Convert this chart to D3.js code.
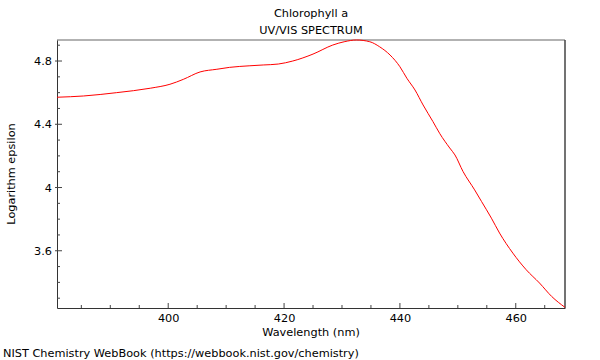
<!DOCTYPE html>
<html>
<head>
<meta charset="utf-8">
<script src="https://cdn.jsdelivr.net/npm/d3@7"></script>
<style>
  body { margin: 0; background: #fff; }
  svg text { font-family: "DejaVu Sans", sans-serif; font-size: 11.3px; fill: #000; }
</style>
</head>
<body>
<svg id="chart" width="600" height="360"></svg>
<script>
// spectrum
const wavelength = [380.8, 385.4, 391.1, 396.9, 400.3, 402.6, 405.5, 408.4, 410.6, 414.1,
    416.4, 419, 421.5, 425, 428.4, 430.5, 432.5, 434.8, 436.5, 438.3,
    440, 441.2, 442.6, 444, 445.7, 446.9, 448.6, 449.5, 450.9, 452.9,
    454.1, 455.8, 457.2, 459.5, 461.8, 464.1, 466.2, 468.5];
const logEps = [4.571, 4.579, 4.600, 4.628, 4.653, 4.684, 4.731, 4.748, 4.760, 4.770,
    4.775, 4.781, 4.800, 4.844, 4.901, 4.923, 4.933, 4.922, 4.890, 4.838,
    4.764, 4.691, 4.617, 4.522, 4.417, 4.340, 4.250, 4.206, 4.101, 3.985,
    3.911, 3.806, 3.712, 3.585, 3.480, 3.396, 3.311, 3.242];
const xTicks = [400, 420, 440, 460];
const yTicks = [3.6, 4, 4.4, 4.8];
const titleLines = ['Chlorophyll a', 'UV/VIS SPECTRUM'];

window.addEventListener('load', () => {
    let svg = d3.select('svg#chart');
    let left = 57, right = 565, top = 40, bottom = 308;

    let x = d3.scaleLinear().domain([380.8, 468.5]).range([left, right]);
    let y = d3.scaleLinear().domain([3.238, 4.933]).range([bottom, top]);

    // minor ticks every 5 nm / 0.1
    let xMinor = d3.range(385, 469, 5).filter(d => xTicks.indexOf(d) < 0);
    let yMinor = d3.range(33, 50).map(d => d / 10).filter(d => yTicks.indexOf(d) < 0);

    // frame: top and right
    svg.append('line').attr('x1', left).attr('x2', right).attr('y1', top).attr('y2', top)
        .attr('stroke', '#999').attr('stroke-width', 1.5);
    svg.append('line').attr('x1', right).attr('x2', right).attr('y1', top).attr('y2', bottom)
        .attr('stroke', '#444').attr('stroke-width', 1.5);

    // bottom axis
    let xAxis = svg.append('g').attr('transform', 'translate(0,' + bottom + ')')
        .call(d3.axisBottom(x).tickValues(xTicks).tickSize(0).tickPadding(6).tickFormat(d3.format('d')));
    xAxis.select('.domain').attr('stroke', '#333');
    xAxis.selectAll('.tick line').remove();
    xAxis.selectAll('text').style('font-size', '11.3px').attr('dy', '0.71em');
    xTicks.forEach(d => svg.append('line').attr('x1', x(d)).attr('x2', x(d))
        .attr('y1', bottom).attr('y2', bottom - 5).attr('stroke', '#444'));
    xMinor.forEach(d => svg.append('line').attr('x1', x(d)).attr('x2', x(d))
        .attr('y1', bottom).attr('y2', bottom - 3).attr('stroke', '#444'));

    // left axis
    let yAxis = svg.append('g').attr('transform', 'translate(' + left + ',0)')
        .call(d3.axisLeft(y).tickValues(yTicks).tickSize(0).tickPadding(5).tickFormat(d3.format('')));
    yAxis.select('.domain').attr('stroke', '#333');
    yAxis.selectAll('.tick line').remove();
    yAxis.selectAll('text').style('font-size', '11.3px');
    yTicks.forEach(d => svg.append('line').attr('x1', left - 2).attr('x2', left + 5)
        .attr('y1', y(d)).attr('y2', y(d)).attr('stroke', '#444'));
    yMinor.forEach(d => svg.append('line').attr('x1', left).attr('x2', left + 3)
        .attr('y1', y(d)).attr('y2', y(d)).attr('stroke', '#444'));

    // spectrum line
    let line = d3.line()
        .x((d, i) => x(wavelength[i]))
        .y(d => y(d))
        .curve(d3.curveMonotoneX);
    svg.append('path').datum(logEps)
        .attr('d', line)
        .attr('fill', 'none')
        .attr('stroke', '#f00')
        .attr('stroke-width', 1);

    // titles and labels
    titleLines.forEach((t, i) => {
        svg.append('text').attr('x', 311).attr('y', 17 + i * 17)
            .attr('text-anchor', 'middle').text(t);
    });
    svg.append('text').attr('x', 311).attr('y', 336)
        .attr('text-anchor', 'middle').text('Wavelength (nm)');
    svg.append('text').attr('transform', 'translate(15,174) rotate(-90)')
        .attr('text-anchor', 'middle').text('Logarithm epsilon');
    svg.append('text').attr('x', 3).attr('y', 357)
        .text('NIST Chemistry WebBook (https://webbook.nist.gov/chemistry)');
});
</script>
</body>
</html>
